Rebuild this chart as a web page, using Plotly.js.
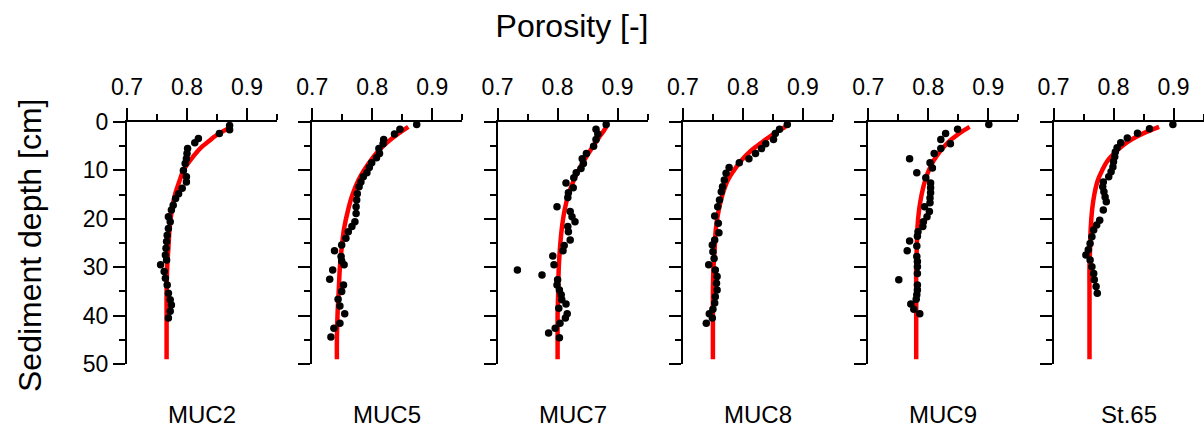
<!DOCTYPE html>
<html>
<head>
<meta charset="utf-8">
<script src="https://cdn.plot.ly/plotly-3.0.1.min.js"></script>
<style>html,body{margin:0;padding:0;background:#fff;}#chart{width:1204px;height:427px;}</style>
</head>
<body>
<div id="chart"></div>
<script>
// ---- Data ----
const coreNames = ["MUC2", "MUC5", "MUC7", "MUC8", "MUC9", "St.65"];
const xTickVals = [0.7, 0.8, 0.9];
const xTickText = ["0.7", "0.8", "0.9"];
const yTickVals = [0, 10, 20, 30, 40, 50];

// measured porosity (dots)
const depthMUC2 = [0.7,1.6,2.4,3.4,4.3,5.5,6.5,7.6,8.6,10.0,11.3,12.4,13.7,14.8,15.8,17.2,18.2,19.6,20.6,22.0,23.4,24.7,26.1,27.5,28.5,29.5,30.9,32.3,33.7,35.4,36.7,37.8,39.1,40.5];
const porMUC2 = [0.871,0.871,0.854,0.819,0.813,0.801,0.800,0.799,0.797,0.794,0.799,0.799,0.792,0.786,0.781,0.777,0.774,0.769,0.772,0.769,0.767,0.766,0.765,0.764,0.766,0.756,0.762,0.764,0.767,0.769,0.772,0.774,0.772,0.769];

const depthMUC5 = [0.5,1.5,2.5,3.6,4.5,5.5,6.5,7.4,8.4,9.4,10.5,11.3,12.4,13.4,14.8,16.1,17.5,18.9,20.6,21.6,22.7,24.0,25.4,26.6,27.8,28.7,29.5,30.6,32.5,33.7,35.0,36.6,38.0,39.6,41.6,42.6,44.4];
const porMUC5 = [0.874,0.846,0.837,0.819,0.818,0.811,0.812,0.807,0.799,0.795,0.791,0.785,0.781,0.778,0.775,0.774,0.773,0.773,0.771,0.766,0.760,0.756,0.749,0.737,0.748,0.749,0.753,0.734,0.729,0.752,0.749,0.743,0.746,0.754,0.746,0.736,0.731];

const depthMUC7 = [0.5,1.5,2.5,3.6,5.0,6.5,7.6,8.6,9.6,10.5,11.5,12.6,13.6,14.6,15.6,17.5,18.5,19.6,20.6,21.6,22.7,24.4,25.5,26.6,27.7,29.5,30.6,31.6,32.6,33.7,34.7,35.7,36.7,37.6,38.5,39.6,40.5,41.6,42.6,43.6,44.6];
const porMUC7 = [0.881,0.864,0.867,0.864,0.860,0.848,0.841,0.843,0.839,0.831,0.827,0.814,0.826,0.818,0.817,0.799,0.821,0.824,0.829,0.817,0.818,0.821,0.811,0.809,0.792,0.794,0.733,0.774,0.800,0.799,0.803,0.806,0.807,0.814,0.802,0.816,0.813,0.804,0.796,0.785,0.803];

const depthMUC8 = [0.5,1.5,2.4,3.6,4.5,5.5,6.5,7.6,8.4,9.4,10.6,12.0,13.4,14.4,16.1,17.5,19.4,20.9,22.9,24.4,25.4,26.8,28.2,29.5,30.6,31.9,33.3,34.7,36.1,37.4,38.7,39.6,40.5,41.6];
const porMUC8 = [0.874,0.861,0.854,0.851,0.838,0.831,0.821,0.810,0.794,0.777,0.772,0.769,0.766,0.764,0.761,0.758,0.753,0.759,0.760,0.753,0.749,0.750,0.752,0.743,0.754,0.757,0.756,0.757,0.754,0.753,0.750,0.744,0.749,0.739];

const depthMUC9 = [0.5,1.5,2.4,3.6,4.5,5.5,6.5,7.6,8.4,9.5,10.5,11.5,12.6,13.6,14.6,15.7,16.7,17.5,18.5,19.6,20.6,21.6,22.7,23.6,24.6,25.6,26.6,27.8,28.8,29.9,31.3,32.6,33.7,34.7,35.7,36.6,37.6,38.7,39.6];
const porMUC9 = [0.901,0.849,0.829,0.821,0.837,0.821,0.810,0.769,0.803,0.807,0.781,0.796,0.804,0.804,0.804,0.803,0.803,0.794,0.802,0.798,0.792,0.791,0.783,0.782,0.769,0.781,0.765,0.781,0.782,0.782,0.782,0.751,0.782,0.782,0.781,0.780,0.771,0.776,0.786];

const depthSt65 = [0.5,1.4,2.3,3.3,4.3,5.3,6.2,7.2,8.2,9.3,10.3,11.3,12.4,13.4,14.4,15.5,16.5,18.2,20.3,21.3,22.3,23.7,25.1,26.4,27.5,28.5,29.9,31.3,32.6,34.0,35.4];
const porSt65 = [0.899,0.860,0.840,0.823,0.812,0.806,0.803,0.802,0.800,0.799,0.796,0.792,0.783,0.782,0.784,0.786,0.788,0.783,0.777,0.772,0.767,0.764,0.761,0.758,0.754,0.761,0.764,0.767,0.768,0.771,0.773];

// fitted profiles (red curves), read at these depths
const curveDepth = [1,2,3,4,5,6,8,10,12,15,18,22,26,30,35,40,45,49];
const fitMUC2 = [0.873,0.859,0.846,0.836,0.826,0.818,0.805,0.794,0.788,0.780,0.775,0.771,0.769,0.767,0.766,0.766,0.766,0.766];
const fitMUC5 = [0.860,0.848,0.837,0.827,0.818,0.810,0.797,0.786,0.777,0.767,0.760,0.753,0.749,0.746,0.744,0.742,0.741,0.741];
const fitMUC7 = [0.881,0.876,0.870,0.865,0.859,0.854,0.844,0.835,0.827,0.818,0.812,0.807,0.804,0.802,0.801,0.800,0.800,0.800];
const fitMUC8 = [0.871,0.857,0.845,0.834,0.823,0.813,0.797,0.785,0.775,0.766,0.760,0.755,0.753,0.751,0.750,0.750,0.750,0.750];
const fitMUC9 = [0.869,0.856,0.845,0.835,0.827,0.820,0.809,0.801,0.795,0.789,0.785,0.782,0.781,0.780,0.780,0.780,0.780,0.780];
const fitSt65 = [0.876,0.856,0.839,0.825,0.814,0.805,0.790,0.781,0.774,0.768,0.7645,0.762,0.761,0.760,0.760,0.760,0.760,0.760];

const dotDepths = [depthMUC2, depthMUC5, depthMUC7, depthMUC8, depthMUC9, depthSt65];
const dotPors = [porMUC2, porMUC5, porMUC7, porMUC8, porMUC9, porSt65];
const fits = [fitMUC2, fitMUC5, fitMUC7, fitMUC8, fitMUC9, fitSt65];

// ---- Layout geometry ----
const W = 1204, H = 427;
const FONT = "Liberation Sans, Arial, sans-serif";
const panelLeft0 = 127, panelStep = 185.3, panelW = 150;
const yTopPx = 122, yBotPx = 364;

const traces = [];
const layout = {
  width: W, height: H,
  margin: {l: 0, r: 0, t: 0, b: 0},
  paper_bgcolor: "#fff", plot_bgcolor: "rgba(0,0,0,0)",
  showlegend: false,
  font: {family: FONT, color: "#000"},
  title: {text: "Porosity [-]", font: {family: FONT, size: 32, color: "#000"},
          x: 572 / W, xanchor: "center", y: 1 - 26 / H, yanchor: "middle"},
  annotations: []
};

for (let i = 0; i < 6; i++) {
  const sfx = i === 0 ? "" : String(i + 1);
  const xa = "x" + sfx, ya = "y" + sfx;
  const left = panelLeft0 + panelStep * i;
  const right = Math.min(left + panelW, W - 0.5);

  traces.push({
    type: "scatter", mode: "lines", x: fits[i], y: curveDepth,
    xaxis: xa, yaxis: ya, line: {color: "#ff0000", width: 4.5, shape: "spline"},
    cliponaxis: false, hoverinfo: "skip"
  });
  traces.push({
    type: "scatter", mode: "markers", x: dotPors[i], y: dotDepths[i],
    xaxis: xa, yaxis: ya, marker: {color: "#000", size: 7.5},
    cliponaxis: false
  });

  layout["xaxis" + sfx] = {
    domain: [left / W, right / W], anchor: ya, side: "top",
    range: [0.7, 0.95], tickmode: "array", tickvals: xTickVals, ticktext: xTickText,
    ticks: "outside", ticklen: 12, tickwidth: 2, tickcolor: "#000",
    ticklabelstandoff: 4,
    showline: true, linewidth: 2, linecolor: "#000",
    showgrid: false, zeroline: false,
    tickfont: {family: FONT, size: 23, color: "#000"},
    minor: {tickmode: "array", tickvals: [0.75, 0.85, 0.95], ticks: "outside", ticklen: 6, tickwidth: 2, tickcolor: "#000", showgrid: false},
    fixedrange: true
  };
  layout["yaxis" + sfx] = {
    domain: [1 - yBotPx / H, 1 - yTopPx / H], anchor: xa,
    range: [50, 0], tickmode: "array", tickvals: yTickVals,
    ticks: "outside", ticklen: 12, tickwidth: 2, tickcolor: "#000",
    showline: true, linewidth: 2, linecolor: "#000",
    showgrid: false, zeroline: false,
    showticklabels: i === 0,
    tickfont: {family: FONT, size: 23, color: "#000"},
    minor: {tickmode: "array", tickvals: [5, 15, 25, 35, 45], ticks: "outside", ticklen: 6, tickwidth: 2, tickcolor: "#000", showgrid: false},
    fixedrange: true
  };

  layout.annotations.push({
    text: coreNames[i], xref: "paper", yref: "paper",
    x: (left + panelW / 2) / W, y: 1 - 414 / H, xanchor: "center", yanchor: "middle",
    showarrow: false, font: {family: FONT, size: 24, color: "#000"}
  });
}

layout.annotations.push({
  text: "Sediment depth [cm]", xref: "paper", yref: "paper",
  x: 30 / W, y: 1 - 246 / H, xanchor: "center", yanchor: "middle", textangle: -90,
  showarrow: false, font: {family: FONT, size: 32, color: "#000"}
});

Plotly.newPlot("chart", traces, layout, {displayModeBar: false, staticPlot: true});
</script>
</body>
</html>
